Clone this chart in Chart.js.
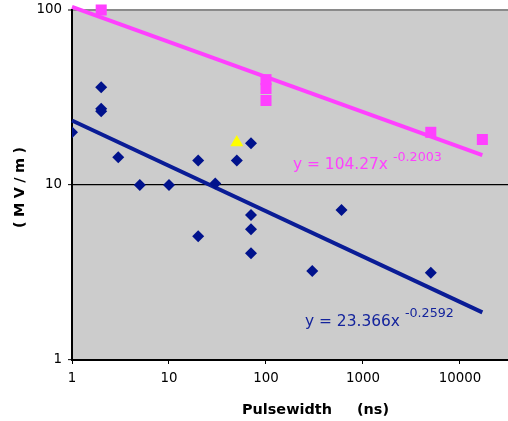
<!DOCTYPE html>
<html><head><meta charset="utf-8">
<style>html,body{margin:0;padding:0;background:#fff;overflow:hidden;} #wrap{width:508px;height:421px;position:relative;}</style>
<script src="https://cdn.jsdelivr.net/npm/chart.js@4.4.1/dist/chart.umd.min.js"></script>
</head><body><div id="wrap"><canvas id="c"></canvas></div>
<script>
// ---- data ----
const xTickValues = [1, 10, 100, 1000, 10000];
const yTickValues = [1, 10, 100];
const blueX = [1, 2, 2, 2, 3, 5, 10, 20, 20, 30, 50, 70, 70, 70, 70, 300, 600, 5000];
const blueY = [20, 36.2, 27.3, 26.4, 14.4, 10, 10, 13.8, 5.1, 10.2, 13.8, 17.3, 6.74, 5.58, 4.07, 3.23, 7.2, 3.15];
const pinkX = [2, 100, 100, 100, 5000, 17000];
const pinkY = [100, 40, 35.6, 30.4, 20, 18.2];
const yellowX = [50];
const yellowY = [17.5];
const blueFitX = [1, 17000];
const blueFitY = [23.37, 1.87];
const pinkFitX = [1, 17000];
const pinkFitY = [104.3, 14.8];
const xAxisTitle = 'Pulsewidth     (ns)';
const yAxisTitle = '(MV/m)';
const pinkEq = ['y = 104.27x', '-0.2003'];
const blueEq = ['y = 23.366x', '-0.2592'];
const xMin = 1, xMax = 31250, yMin = 1, yMax = 100;

const FONT = '"DejaVu Sans", Verdana, sans-serif';
const BLUE = '#00128c';
const BLUE_LINE = '#0a1c96';
const PINK = '#ff40ff';
const pts = (xs, ys) => xs.map((x, i) => ({x: x, y: ys[i]}));

// font sizes fitted to the widths seen in the reference
const mctx = document.createElement('canvas').getContext('2d');
function fitSize(text, weight, target) {
  mctx.font = weight + ' 100px ' + FONT;
  return 100 * target / mctx.measureText(text).width;
}
const tickSize = (fitSize('10000', 'normal', 40) + fitSize('100', 'normal', 27)) / 2;
const eqSize = fitSize('y = 104.27x', 'normal', 95);
const supSize = fitSize('-0.2003', 'normal', 49);
const titleSize = fitSize('Pulsewidth', 'bold', 90);
mctx.font = 'bold ' + titleSize + 'px ' + FONT;
const yTitleSpacing = Math.max(0, (81 - mctx.measureText(yAxisTitle).width) / 5);

const bgPlugin = {
  id: 'plotbg',
  beforeDraw(chart) {
    const {ctx, chartArea: a} = chart;
    ctx.save();
    ctx.fillStyle = '#cccccc';
    ctx.fillRect(a.left, a.top, a.right - a.left, a.bottom - a.top);
    ctx.restore();
  }
};
const textPlugin = {
  id: 'texts',
  afterDraw(chart) {
    const ctx = chart.ctx;
    ctx.save();
    ctx.fillStyle = '#000';
    ctx.font = 'bold ' + titleSize + 'px ' + FONT;
    ctx.textAlign = 'left';
    ctx.textBaseline = 'alphabetic';
    ctx.fillText(xAxisTitle, 242, 414);
    ctx.save();
    ctx.translate(24, 228);
    ctx.rotate(-Math.PI / 2);
    ctx.letterSpacing = yTitleSpacing + 'px';
    ctx.fillText(yAxisTitle, 0, 0);
    ctx.restore();
    const eq = (parts, x, y, color) => {
      ctx.fillStyle = color;
      ctx.textAlign = 'left';
      ctx.font = eqSize + 'px ' + FONT;
      ctx.fillText(parts[0], x, y);
      const w = ctx.measureText(parts[0]).width;
      ctx.font = supSize + 'px ' + FONT;
      ctx.fillText(parts[1], x + w + 5, y - 8.8);
    };
    eq(pinkEq, 293, 169.3, PINK);
    eq(blueEq, 305, 325.7, '#14249c');
    ctx.restore();
  }
};

new Chart(document.getElementById('c'), {
  type: 'scatter',
  data: {
    datasets: [
      {data: pts(blueFitX, blueFitY), showLine: true, borderColor: BLUE_LINE, borderWidth: 4, pointRadius: 0, order: 3, clip: false},
      {data: pts(pinkFitX, pinkFitY), showLine: true, borderColor: PINK, borderWidth: 4, pointRadius: 0, order: 3, clip: false},
      {data: pts(blueX, blueY), pointStyle: 'rectRot', pointRadius: 6, backgroundColor: BLUE, borderColor: BLUE, borderWidth: 0, order: 1},
      {data: pts(pinkX, pinkY), pointStyle: 'rect', pointRadius: 7.8, backgroundColor: PINK, borderColor: PINK, borderWidth: 0, order: 1, clip: false},
      {data: pts(yellowX, yellowY), pointStyle: 'triangle', pointRadius: 7.5, backgroundColor: '#ffff00', borderColor: '#ffff00', borderWidth: 0, order: 1}
    ]
  },
  options: {
    responsive: true,
    maintainAspectRatio: false,
    devicePixelRatio: 1,
    animation: false,
    events: [],
    layout: {autoPadding: false, padding: {top: 10, right: 0, bottom: 0, left: 0}},
    plugins: {legend: {display: false}, tooltip: {enabled: false}},
    scales: {
      x: {
        type: 'logarithmic', min: xMin, max: xMax,
        afterBuildTicks: s => { s.ticks = xTickValues.map(v => ({value: v})); },
        afterFit: s => { s.height = 61; s.paddingLeft = 0; s.paddingRight = 0; },
        ticks: {callback: v => String(v), font: {family: FONT, size: tickSize}, color: '#000', padding: 7, maxRotation: 0, autoSkip: false},
        grid: {drawOnChartArea: false, drawTicks: true, tickLength: 4, tickColor: '#000', tickWidth: 1},
        border: {color: '#000', width: 2}
      },
      y: {
        type: 'logarithmic', min: yMin, max: yMax,
        afterBuildTicks: s => { s.ticks = yTickValues.map(v => ({value: v})); },
        afterFit: s => { s.width = 72; s.paddingTop = 0; s.paddingBottom = 0; },
        ticks: {callback: v => String(v), font: {family: FONT, size: tickSize}, color: '#000', padding: 6},
        grid: {
          color: c => c.tick && c.tick.value === 10 ? '#000' : (c.tick && c.tick.value === 100 ? '#8a8a8a' : 'rgba(0,0,0,0)'),
          lineWidth: c => c.tick && c.tick.value === 100 ? 2 : 1.3,
          drawTicks: true, tickLength: 4, tickColor: '#000', tickWidth: 1
        },
        border: {color: '#000', width: 2}
      }
    }
  },
  plugins: [bgPlugin, textPlugin]
});
</script></body></html>
